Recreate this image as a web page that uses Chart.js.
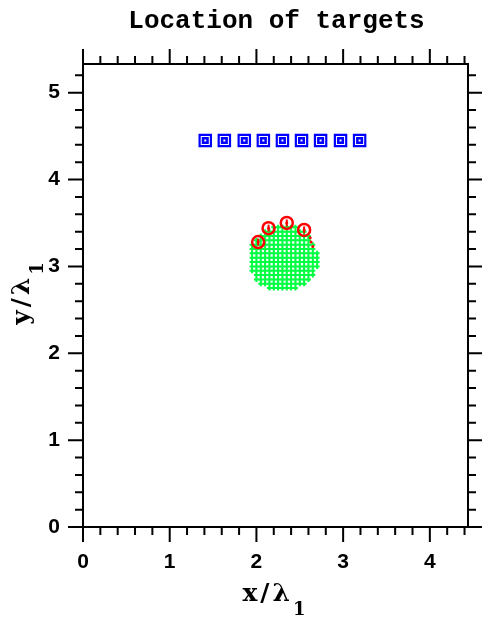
<!DOCTYPE html>
<html>
<head>
<meta charset="utf-8">
<script src="https://cdn.jsdelivr.net/npm/chart.js@4/dist/chart.umd.min.js"></script>
<style>
  html, body { margin: 0; padding: 0; background: #fff; }
  #wrap { width: 482px; height: 617px; }
</style>
</head>
<body>
<div id="wrap"><canvas id="targets"></canvas></div>
<script>
// blue receivers (squares)
const blueX = [1.41, 1.63, 1.86, 2.08, 2.30, 2.52, 2.74, 2.97, 3.19];
const blueY = [4.45, 4.45, 4.45, 4.45, 4.45, 4.45, 4.45, 4.45, 4.45];

// red targets (circles) and the small red dots trailing off to the right
const redX = [2.02, 2.14, 2.35, 2.55];
const redY = [3.28, 3.44, 3.50, 3.42];
const redDotX = [2.02, 2.14, 2.35, 2.55, 2.62, 2.63, 2.65];
const redDotY = [3.28, 3.44, 3.50, 3.42, 3.33, 3.28, 3.23];

// green grid: column x values, row y values, and the first/last column used in each row
const greenCols = [1.95, 2.00, 2.05, 2.10, 2.15, 2.20, 2.25, 2.30, 2.35, 2.40, 2.45, 2.50, 2.55, 2.60, 2.65, 2.70];
const greenRowY = [2.75, 2.80, 2.85, 2.90, 2.95, 3.00, 3.05, 3.10, 3.15, 3.20, 3.25, 3.30, 3.35, 3.40, 3.45];
const greenRowFirst = [4, 2, 1, 1, 0, 0, 0, 0, 0, 0, 0, 1, 2, 3, 5];
const greenRowLast = [10, 12, 13, 14, 14, 15, 15, 15, 15, 14, 14, 13, 13, 12, 10];

const xMax = 4.44;
const yMax = 5.33;

const pts = (xs, ys) => xs.map((x, i) => ({x: x, y: ys[i]}));

const green = [];
greenRowY.forEach((y, r) => {
  for (let c = greenRowFirst[r]; c <= greenRowLast[r]; c++) green.push({x: greenCols[c], y: y});
});

const isMajor = v => Math.abs(v - Math.round(v)) < 1e-6;

const frame = {
  id: 'frame',
  afterDraw(chart) {
    const ctx = chart.ctx, a = chart.chartArea;
    const sx = chart.scales.x, sy = chart.scales.y;
    ctx.save();
    ctx.strokeStyle = '#000';
    ctx.lineWidth = 2;
    ctx.strokeRect(a.left, a.top, a.right - a.left, a.bottom - a.top);
    ctx.beginPath();
    sx.ticks.forEach(t => {
      const px = sx.getPixelForValue(t.value);
      const len = isMajor(t.value) ? 15 : 8;
      ctx.moveTo(px, a.bottom); ctx.lineTo(px, a.bottom + len);
      ctx.moveTo(px, a.top); ctx.lineTo(px, a.top - len);
    });
    sy.ticks.forEach(t => {
      const py = sy.getPixelForValue(t.value);
      const len = isMajor(t.value) ? 15 : 8;
      ctx.moveTo(a.left, py); ctx.lineTo(a.left - len, py);
      ctx.moveTo(a.right, py); ctx.lineTo(a.right + len, py);
    });
    ctx.stroke();

    // title
    ctx.fillStyle = '#000';
    ctx.font = 'bold 26px "Liberation Mono"';
    ctx.textAlign = 'center';
    ctx.textBaseline = 'alphabetic';
    ctx.fillText('Location of targets', (a.left + a.right) / 2 + 1, 28);

    // axis titles with subscript
    const label = (main, x, y, rot) => {
      ctx.save();
      ctx.translate(x, y);
      ctx.rotate(rot);
      ctx.textAlign = 'left';
      ctx.letterSpacing = '3px';
      ctx.font = 'bold 25px "DejaVu Serif"';
      const w1 = ctx.measureText(main).width;
      ctx.font = 'bold 18px "DejaVu Serif"';
      const w2 = ctx.measureText('1').width;
      const x0 = -(w1 + w2) / 2;
      ctx.font = 'bold 25px "DejaVu Serif"';
      ctx.fillText(main, x0, 0);
      ctx.font = 'bold 18px "DejaVu Serif"';
      ctx.fillText('1', x0 + w1, 14);
      ctx.restore();
    };
    label('x/λ', (a.left + a.right) / 2, 601, 0);
    label('y/λ', 29, 292, -Math.PI / 2);
    ctx.restore();
  }
};

const tickFont = {family: '"Liberation Sans"', size: 21, weight: 'bold'};

new Chart(document.getElementById('targets'), {
  type: 'scatter',
  data: {
    datasets: [
      {
        label: 'grid',
        data: green,
        order: 10,
        pointStyle: 'cross',
        radius: 2.5,
        borderWidth: 2,
        borderColor: '#00ff40'
      },
      {
        label: 'targets',
        data: pts(redX, redY),
        order: 1,
        pointStyle: 'circle',
        radius: 6,
        borderWidth: 2.5,
        borderColor: '#ff0000',
        backgroundColor: 'rgba(0,0,0,0)'
      },
      {
        label: 'target marks',
        data: pts(redX, redY),
        order: 1,
        pointStyle: 'line',
        rotation: 90,
        radius: 3.5,
        borderWidth: 2,
        borderColor: '#ff0000'
      },
      {
        label: 'dots',
        data: pts(redDotX, redDotY),
        order: 1,
        pointStyle: 'circle',
        radius: 1.5,
        borderWidth: 0,
        backgroundColor: '#ff0000'
      },
      {
        label: 'receivers',
        data: pts(blueX, blueY),
        order: 2,
        pointStyle: 'rect',
        radius: 8,
        borderWidth: 2.2,
        borderColor: '#0000ff',
        backgroundColor: '#ffffff'
      },
      {
        label: 'receiver marks',
        data: pts(blueX, blueY),
        order: 1,
        pointStyle: 'rect',
        radius: 3.2,
        borderWidth: 2.5,
        borderColor: '#0000ff',
        backgroundColor: 'rgba(0,0,0,0)'
      }
    ]
  },
  options: {
    responsive: true,
    maintainAspectRatio: false,
    animation: false,
    layout: { padding: {top: 64, right: 14, left: 0, bottom: 0} },
    plugins: { legend: { display: false }, tooltip: { enabled: false } },
    scales: {
      x: {
        type: 'linear',
        position: 'bottom',
        min: 0,
        max: xMax,
        afterFit: s => { s.height = 90; },
        border: { display: false },
        grid: { drawOnChartArea: false, tickLength: 15, tickColor: 'rgba(0,0,0,0)' },
        ticks: {
          stepSize: 0.2,
          autoSkip: false,
          includeBounds: false,
          maxRotation: 0,
          padding: 8,
          color: '#000',
          font: tickFont,
          callback: v => isMajor(v) ? String(Math.round(v)) : ''
        }
      },
      y: {
        type: 'linear',
        position: 'left',
        min: 0,
        max: yMax,
        afterFit: s => { s.width = 83; },
        border: { display: false },
        grid: { drawOnChartArea: false, tickLength: 15, tickColor: 'rgba(0,0,0,0)' },
        ticks: {
          stepSize: 0.2,
          autoSkip: false,
          includeBounds: false,
          padding: 8,
          color: '#000',
          font: tickFont,
          callback: v => isMajor(v) ? String(Math.round(v)) : ''
        }
      }
    }
  },
  plugins: [frame]
});
</script>
</body>
</html>
